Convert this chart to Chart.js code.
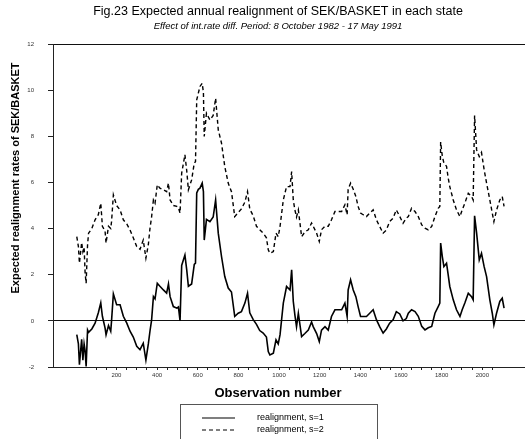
<!DOCTYPE html>
<html>
<head>
<meta charset="utf-8">
<script src="https://cdn.jsdelivr.net/npm/chart.js@4.4.1/dist/chart.umd.min.js"></script>
<style>
  html, body { margin: 0; padding: 0; background: #fff; overflow: hidden; }
  #wrap { width: 525px; height: 439px; }
</style>
</head>
<body>
<div id="wrap"><canvas id="chart" width="525" height="439"></canvas></div>
<script>
const obsNumber = [
  5, 13, 18, 29, 35, 41, 46, 51, 58, 63,
  79, 95, 111, 123, 131, 144, 149, 161, 172, 176,
  185, 201, 218, 234, 251, 267, 283, 300, 316, 332,
  345, 357, 365, 373, 382, 390, 401, 414, 431, 447,
  456, 464, 480, 497, 505, 513,
  521, 537, 546, 554, 570, 583, 589, 595, 603, 611,
  622, 628, 632, 643, 660, 676, 688, 701, 717, 733,
  750, 766, 782, 799, 815, 832, 845, 856, 873, 889,
  905, 922, 938, 947, 955, 972, 985, 996, 1005, 1021,
  1037, 1054, 1062, 1070, 1078, 1086, 1095, 1111, 1127, 1144,
  1160, 1168, 1185, 1198, 1209, 1226, 1242, 1258, 1275, 1291,
  1308, 1324, 1335, 1340, 1352, 1365, 1378, 1389, 1401, 1414,
  1430, 1446, 1463, 1479, 1495, 1512, 1528, 1544, 1561, 1577,
  1594, 1610, 1626, 1636, 1652, 1669, 1685, 1702, 1718, 1734,
  1751, 1767, 1783, 1791, 1795, 1803, 1811, 1824, 1832, 1840,
  1857, 1873, 1890, 1901, 1914, 1931, 1947, 1955, 1962, 1972,
  1985, 1996, 2009, 2021, 2037, 2049, 2057, 2070, 2086, 2098,
  2107
];

// realignment, s=1 (solid)
const realignS1 = [
  -0.6, -1.0, -1.9, -0.8, -1.7, -1.0, -1.3, -1.98, -0.4, -0.5,
  -0.35, -0.1, 0.35, 0.78, 0.2, -0.3, -0.6, -0.2, -0.45, 0.0,
  1.17, 0.7, 0.7, 0.2, -0.1, -0.45, -0.7, -1.1, -1.25, -0.97,
  -1.7, -1.0, -0.45, 0.03, 1.05, 0.95, 1.63, 1.5, 1.34, 1.2,
  1.6, 1.05, 0.62, 0.55, 0.6, 0.0,
  2.4, 2.85, 2.2, 1.5, 1.6, 2.45, 2.5, 5.55, 5.7, 5.75,
  5.97, 5.6, 3.5, 4.4, 4.3, 4.5, 5.24, 3.8, 2.79, 1.92,
  1.42, 1.25, 0.19, 0.33, 0.4, 0.77, 1.2, 0.35, 0.05, -0.15,
  -0.42, -0.53, -0.7, -1.33, -1.48, -1.4, -0.82, -1.0, -0.6, 0.77,
  1.49, 1.34, 2.21, 0.85, 0.25, -0.25, 0.33, -0.68, -0.55, -0.4,
  -0.05, -0.25, -0.55, -0.9, -0.4, -0.25, -0.4, 0.19, 0.48, 0.48,
  0.48, 0.77, 0.19, 1.34, 1.78, 1.34, 1.05, 0.62, 0.19, 0.19,
  0.19, 0.33, 0.48, 0.05, -0.25, -0.53, -0.35, -0.1, 0.05, 0.4,
  0.3, 0.0, 0.1, 0.33, 0.48, 0.4, 0.2, -0.24, -0.39, -0.3,
  -0.24, 0.33, 0.62, 0.77, 3.37, 2.8, 2.35, 2.5, 2.0, 1.49,
  0.91, 0.48, 0.19, 0.48, 0.77, 1.2, 1.05, 0.91, 4.55, 3.8,
  2.64, 2.93, 2.35, 1.92, 0.91, 0.33, -0.17, 0.33, 0.84, 0.98,
  0.55
];

// realignment, s=2 (dashed)
const realignS2 = [
  3.65, 3.22, 2.5, 3.4, 3.0, 3.2, 2.07, 1.63, 3.3, 3.8,
  4.0, 4.38, 4.6, 5.1, 4.1, 3.9, 3.37, 4.1, 4.0, 4.3,
  5.46, 5.0, 4.81, 4.38, 4.2, 3.94, 3.6, 3.22, 3.1, 3.5,
  2.72, 3.3, 4.0, 4.5, 5.24, 5.1, 5.9, 5.75, 5.68, 5.6,
  5.97, 5.24, 5.0, 4.96, 4.9, 4.67,
  6.4, 7.2, 6.5, 5.68, 6.11, 6.84, 6.9, 9.58, 9.87, 10.16,
  10.3, 9.9, 7.99, 9.0, 8.71, 8.9, 9.65, 8.28, 7.7, 6.69,
  5.97, 5.6, 4.52, 4.7, 4.85, 5.15, 5.6, 4.85, 4.55, 4.1,
  3.95, 3.8, 3.6, 3.08, 2.93, 3.0, 3.8, 3.65, 4.1, 5.24,
  5.82, 5.82, 6.47, 5.24, 4.81, 4.5, 4.81, 3.65, 3.85, 3.95,
  4.24, 4.1, 3.8, 3.44, 3.95, 4.1, 4.1, 4.38, 4.74, 4.74,
  4.74, 5.03, 4.6, 5.7, 5.97, 5.7, 5.39, 4.96, 4.67, 4.6,
  4.52, 4.67, 4.81, 4.38, 4.09, 3.8, 3.94, 4.3, 4.45, 4.81,
  4.52, 4.23, 4.45, 4.52, 4.88, 4.74, 4.52, 4.16, 4.02, 3.94,
  4.09, 4.52, 4.88, 4.96, 7.75, 7.15, 6.84, 6.7, 6.2, 5.82,
  5.24, 4.81, 4.52, 4.81, 5.1, 5.53, 5.4, 5.24, 8.9, 7.41,
  7.12, 7.3, 6.55, 5.97, 5.24, 4.67, 4.3, 4.8, 5.24, 5.39,
  4.96
];

const yTickValues = [-2, 0, 2, 4, 6, 8, 10, 12];
const xTickValues = [];  // minor ticks every 50, labels every 200
for (let v = 100; v <= 2050; v += 50) xTickValues.push(v);

const FONT = "'Liberation Sans', Arial, sans-serif";

function toPoints(vals) {
  return obsNumber.map((x, i) => ({ x: x, y: vals[i] }));
}

// titles, axis titles and the boxed legend
const figureText = {
  id: 'figureText',
  afterDraw(chart) {
    const c = chart.ctx;
    c.save();
    c.fillStyle = '#000';
    c.textAlign = 'center';
    c.textBaseline = 'middle';

    c.font = '12.5px ' + FONT;
    c.fillText('Fig.23 Expected annual realignment of SEK/BASKET in each state', 278, 12);
    c.font = 'italic 9.5px ' + FONT;
    c.fillText('Effect of int.rate diff. Period: 8 October 1982 - 17 May 1991', 278, 26);

    c.font = 'bold 13px ' + FONT;
    c.fillText('Observation number', 278, 393);

    c.save();
    c.translate(16, 178);
    c.rotate(-Math.PI / 2);
    c.font = 'bold 11px ' + FONT;
    c.fillText('Expected realignment rates of SEK/BASKET', 0, 0);
    c.restore();

    // legend
    c.strokeStyle = '#555';
    c.lineWidth = 1;
    c.strokeRect(180.5, 404.5, 197, 50);
    c.strokeStyle = '#000';
    c.lineWidth = 1.2;
    c.beginPath(); c.moveTo(202, 418); c.lineTo(235, 418); c.stroke();
    c.setLineDash([4, 3]);
    c.beginPath(); c.moveTo(202, 430); c.lineTo(235, 430); c.stroke();
    c.setLineDash([]);
    c.textAlign = 'left';
    c.font = '9px ' + FONT;
    c.fillText('realignment, s=1', 257, 418);
    c.fillText('realignment, s=2', 257, 430);
    c.restore();
  }
};

new Chart(document.getElementById('chart'), {
  type: 'line',
  data: {
    datasets: [
      {
        label: 'realignment, s=1',
        data: toPoints(realignS1),
        borderColor: '#000',
        borderWidth: 1.6,
        pointRadius: 0,
        tension: 0
      },
      {
        label: 'realignment, s=2',
        data: toPoints(realignS2),
        borderColor: '#000',
        borderWidth: 1.4,
        borderDash: [4, 3],
        pointRadius: 0,
        tension: 0
      }
    ]
  },
  options: {
    responsive: false,
    animation: false,
    events: [],
    layout: { padding: { top: 44, left: 0, right: 0, bottom: 0 } },
    plugins: {
      legend: { display: false },
      title: { display: false },
      tooltip: { enabled: false }
    },
    scales: {
      x: {
        type: 'linear',
        min: -112,
        max: 2210,
        afterFit: s => { s.height = 72; },
        afterBuildTicks: s => { s.ticks = xTickValues.map(v => ({ value: v })); },
        border: { display: true, color: '#222', width: 1 },
        grid: { drawOnChartArea: false, drawTicks: true, tickLength: 3, tickColor: '#222' },
        ticks: {
          autoSkip: false,
          maxRotation: 0,
          padding: 2,
          color: '#333',
          font: { family: FONT, size: 6 },
          callback: v => (v % 200 === 0 ? String(v) : '')
        }
      },
      y: {
        min: -2,
        max: 12,
        afterFit: s => { s.width = 53; },
        afterBuildTicks: s => { s.ticks = yTickValues.map(v => ({ value: v })); },
        border: { display: true, color: '#222', width: 1 },
        grid: {
          drawOnChartArea: true,
          drawTicks: true,
          tickLength: 5,
          tickColor: '#222',
          lineWidth: 1,
          color: ctx => (ctx.tick && (ctx.tick.value === 0 || ctx.tick.value === 12)) ? '#111' : 'rgba(0,0,0,0)'
        },
        ticks: {
          padding: 14,
          color: '#333',
          font: { family: FONT, size: 6 }
        }
      }
    }
  },
  plugins: [figureText]
});
</script>
</body>
</html>
